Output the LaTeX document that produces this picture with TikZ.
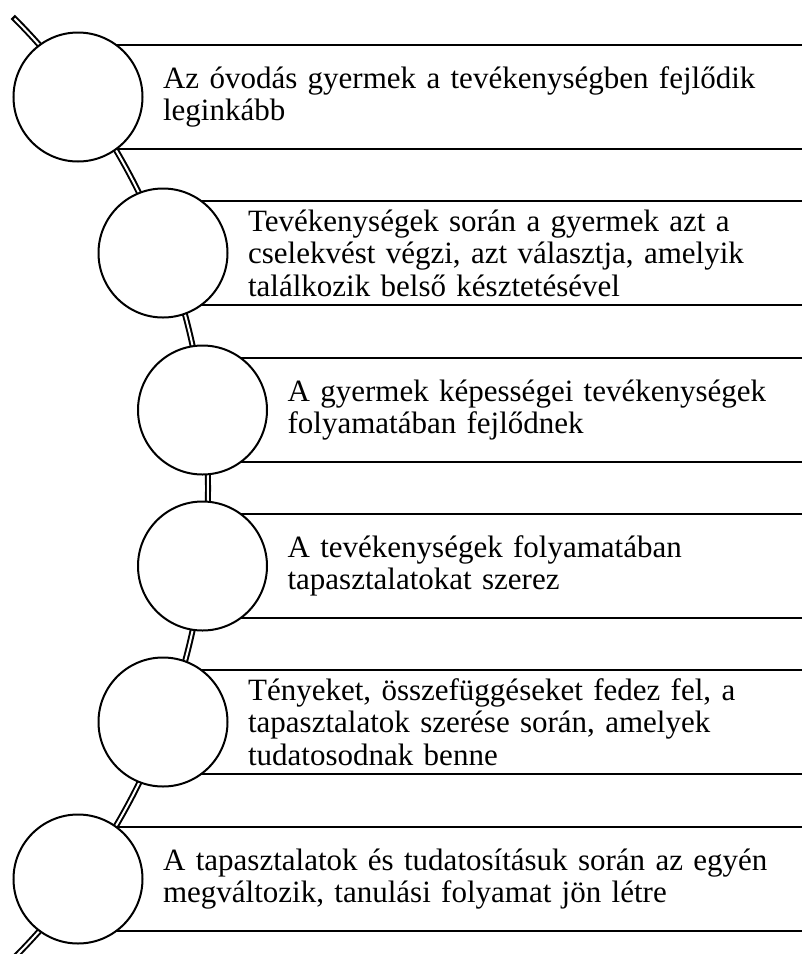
\documentclass[tikz,border=0pt]{standalone}
\usepackage{fontspec}
\setmainfont{Liberation Serif}

\begin{document}
\begin{tikzpicture}[x=1pt, y=-1pt,
    dot/.style={circle, draw, line width=2pt, fill=white, minimum size=129pt, inner sep=0pt},
    card/.style={rectangle, draw, line width=2.2pt, fill=white, anchor=west,
        minimum height=104pt, inner ysep=0pt, inner xsep=84pt, text width=800pt,
        align=left, font=\fontsize{31}{32.5}\selectfont}]

    % Frame (the boxes run off the right edge)
    \useasboundingbox (0,0) rectangle (802,954);
    \clip (0,0) rectangle (802,954);

    % Centres of the circles
    \coordinate (p1) at (78,97);
    \coordinate (p2) at (163,253);
    \coordinate (p3) at (202.5,410);
    \coordinate (p4) at (202.5,566);
    \coordinate (p5) at (163,722);
    \coordinate (p6) at (78,879);

    % Curved double line behind the circles
    \coordinate (hub) at (-458.3,488);
    \draw[line width=6pt] ([shift={(-45:666.3)}]hub) arc[start angle=-45, end angle=46, radius=666.3];
    \draw[white, line width=2pt] ([shift={(-44.8:666.3)}]hub) arc[start angle=-44.8, end angle=46, radius=666.3];

    % Text boxes
    \node[card] (b1) at (p1) {Az óvodás gyermek a tevékenységben fejlődik\\leginkább};
    \node[card] (b2) at (p2) {Tevékenységek során a gyermek azt a\\cselekvést végzi, azt választja, amelyik\\találkozik belső késztetésével};
    \node[card] (b3) at (p3) {A gyermek képességei tevékenységek\\folyamatában fejlődnek};
    \node[card] (b4) at (p4) {A tevékenységek folyamatában\\tapasztalatokat szerez};
    \node[card] (b5) at (p5) {Tényeket, összefüggéseket fedez fel, a\\tapasztalatok szerése során, amelyek\\tudatosodnak benne};
    \node[card] (b6) at (p6) {A tapasztalatok és tudatosításuk során az egyén\\megváltozik, tanulási folyamat jön létre};

    % Circles on top
    \node[dot] (c1) at (p1) {};
    \node[dot] (c2) at (p2) {};
    \node[dot] (c3) at (p3) {};
    \node[dot] (c4) at (p4) {};
    \node[dot] (c5) at (p5) {};
    \node[dot] (c6) at (p6) {};

\end{tikzpicture}
\end{document}
